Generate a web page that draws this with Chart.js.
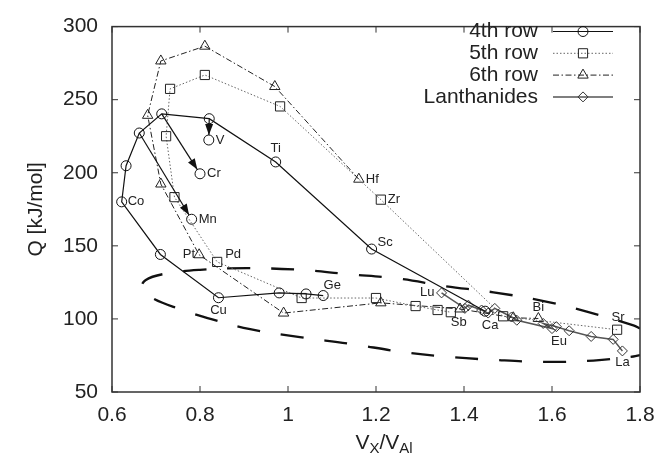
<!DOCTYPE html>
<html>
<head>
<meta charset="utf-8">
<script src="https://cdn.jsdelivr.net/npm/chart.js@4.4.1/dist/chart.umd.min.js"></script>
<style>
  html, body { margin: 0; padding: 0; background: #fff; }
  #wrap { width: 669px; height: 460px; }
</style>
</head>
<body>
<div id="wrap"><canvas id="chart"></canvas></div>
<script>
// 4th row, non-magnetic values (Ca ... Ge)
const row4Names = ['Ca', 'Sc', 'Ti', 'V', 'Cr', 'Mn', 'Fe', 'Co', 'Ni', 'Cu', 'Zn', 'Ga', 'Ge'];
const row4X = [1.448, 1.190, 0.972, 0.821, 0.713, 0.662, 0.632, 0.622, 0.710, 0.842, 0.980, 1.041, 1.080];
const row4Y = [105.3, 147.8, 207.4, 237.0, 240.3, 227.2, 204.8, 180.1, 144.1, 114.5, 117.8, 117.1, 116.0];

// magnetic values, the arrows point to these
const magNames = ['V', 'Cr', 'Mn'];
const magX = [0.820, 0.800, 0.781];
const magY = [222.4, 199.3, 168.2];

// 5th row
const row5Names = ['Sr', 'Y', 'Zr', 'Nb', 'Mo', 'Tc', 'Ru', 'Rh', 'Pd', 'Ag', 'Cd', 'In', 'Sn', 'Sb'];
const row5X = [1.748, 1.489, 1.211, 0.982, 0.811, 0.732, 0.723, 0.742, 0.839, 1.031, 1.200, 1.290, 1.340, 1.370];
const row5Y = [92.6, 101.8, 181.6, 245.4, 266.9, 257.4, 225.0, 183.3, 139.0, 114.3, 114.3, 108.8, 106.1, 104.6];

// 6th row
const row6Names = ['Hf', 'Ta', 'W', 'Re', 'Os', 'Ir', 'Pt', 'Au', 'Hg', 'Tl', 'Pb', 'Bi'];
const row6X = [1.161, 0.970, 0.811, 0.711, 0.681, 0.711, 0.798, 0.990, 1.211, 1.391, 1.512, 1.569];
const row6Y = [195.6, 259.0, 286.6, 276.5, 239.3, 192.3, 143.9, 104.0, 111.0, 106.8, 100.8, 100.3];

// lanthanides
const lanNames = ['La', 'Ce', 'Pr', 'Nd', 'Pm', 'Sm', 'Eu', 'Gd', 'Tb', 'Dy', 'Ho', 'Er', 'Tm', 'Yb', 'Lu'];
const lanX = [1.760, 1.739, 1.689, 1.639, 1.610, 1.580, 1.600, 1.520, 1.508, 1.470, 1.455, 1.440, 1.410, 1.402, 1.349];
const lanY = [78.1, 86.0, 88.0, 91.9, 94.7, 96.9, 93.4, 99.1, 101.3, 107.2, 104.0, 106.1, 109.4, 107.2, 117.8];

// dashed envelope, traced round from the upper right
const envX = [1.80, 1.785, 1.679, 1.573, 1.467, 1.353, 1.255, 1.133, 1.027, 0.906, 0.800, 0.717, 0.676, 0.668,
              0.690, 0.755, 0.830, 0.914, 1.027, 1.141, 1.255, 1.353, 1.467, 1.580, 1.694, 1.785, 1.80];
const envY = [93.5, 95.6, 105.0, 112.7, 118.2, 122.6, 127.4, 130.7, 133.6, 134.7, 133.6, 130.7, 126.5, 121.0,
              114.5, 106.6, 99.5, 93.0, 87.5, 83.0, 77.6, 74.3, 72.0, 70.6, 71.5, 74.3, 75.2];

const seriesLabels = ['4th row', '5th row', '6th row', 'Lanthanides'];

// which element names get a text label, and where it sits next to the mark
const tagList = [
  ['row4', 'Co', 6, 0, 'left'], ['mag', 'V', 7, 0, 'left'], ['mag', 'Cr', 7, 0, 'left'],
  ['mag', 'Mn', 7, 0, 'left'], ['row4', 'Ti', 0, -14, 'center'], ['row4', 'Sc', 6, -7, 'left'],
  ['row6', 'Hf', 7, 0, 'left'], ['row5', 'Zr', 7, 0, 'left'], ['row6', 'Pt', -4, 0, 'right'],
  ['row5', 'Pd', 8, -7, 'left'], ['row4', 'Cu', 0, 13, 'center'], ['row4', 'Ge', 9, -10, 'center'],
  ['lan', 'Lu', -7, 0, 'right'], ['row5', 'Sb', 8, 10, 'center'], ['row4', 'Ca', 5, 14, 'center'],
  ['row6', 'Bi', 0, -11, 'center'], ['lan', 'Eu', 7, 13, 'center'], ['row5', 'Sr', 1, -12, 'center'],
  ['lan', 'La', 0, 11, 'center']
];

const FONT = "'Liberation Sans', Arial, sans-serif";

function pts(xs, ys) {
  return xs.map((x, i) => ({ x: x, y: ys[i] }));
}

const series = {
  row4: { names: row4Names, x: row4X, y: row4Y },
  mag: { names: magNames, x: magX, y: magY },
  row5: { names: row5Names, x: row5X, y: row5Y },
  row6: { names: row6Names, x: row6X, y: row6Y },
  lan: { names: lanNames, x: lanX, y: lanY }
};

function drawMarker(ctx, style, r, cx, cy) {
  ctx.beginPath();
  if (style === 'circle') {
    ctx.arc(cx, cy, r, 0, Math.PI * 2);
  } else if (style === 'rect') {
    const s = r * Math.SQRT1_2;
    ctx.rect(cx - s, cy - s, 2 * s, 2 * s);
  } else if (style === 'triangle') {
    ctx.moveTo(cx, cy - r);
    ctx.lineTo(cx + r * 0.866, cy + r * 0.5);
    ctx.lineTo(cx - r * 0.866, cy + r * 0.5);
    ctx.closePath();
  } else {
    ctx.moveTo(cx, cy - r);
    ctx.lineTo(cx + r, cy);
    ctx.lineTo(cx, cy + r);
    ctx.lineTo(cx - r, cy);
    ctx.closePath();
  }
  ctx.stroke();
}

const decor = {
  id: 'decor',
  afterDatasetsDraw(chart) {
    const ctx = chart.ctx;
    const a = chart.chartArea;
    const xs = chart.scales.x, ys = chart.scales.y;
    ctx.save();

    // frame with inward ticks on all four sides
    ctx.strokeStyle = '#333';
    ctx.lineWidth = 1.5;
    ctx.strokeRect(a.left, a.top, a.right - a.left, a.bottom - a.top);
    ctx.lineWidth = 1;
    ctx.beginPath();
    xs.ticks.forEach(t => {
      const p = xs.getPixelForValue(t.value);
      ctx.moveTo(p, a.bottom); ctx.lineTo(p, a.bottom - 6);
      ctx.moveTo(p, a.top); ctx.lineTo(p, a.top + 6);
    });
    ys.ticks.forEach(t => {
      const p = ys.getPixelForValue(t.value);
      ctx.moveTo(a.left, p); ctx.lineTo(a.left + 6, p);
      ctx.moveTo(a.right, p); ctx.lineTo(a.right - 6, p);
    });
    ctx.stroke();

    // arrows: non-magnetic -> magnetic
    ctx.strokeStyle = '#111';
    ctx.fillStyle = '#111';
    ctx.lineWidth = 1.2;
    magNames.forEach((name, i) => {
      const k = row4Names.indexOf(name);
      const x0 = xs.getPixelForValue(row4X[k]), y0 = ys.getPixelForValue(row4Y[k]);
      const x1 = xs.getPixelForValue(magX[i]), y1 = ys.getPixelForValue(magY[i]);
      const ang = Math.atan2(y1 - y0, x1 - x0);
      const tx = x1 - Math.cos(ang) * 5, ty = y1 - Math.sin(ang) * 5;
      ctx.beginPath();
      ctx.moveTo(x0, y0);
      ctx.lineTo(tx, ty);
      ctx.stroke();
      const hl = 11, hw = 4;
      const bx = tx - Math.cos(ang) * hl, by = ty - Math.sin(ang) * hl;
      ctx.beginPath();
      ctx.moveTo(tx, ty);
      ctx.lineTo(bx - Math.sin(ang) * hw, by + Math.cos(ang) * hw);
      ctx.lineTo(bx + Math.sin(ang) * hw, by - Math.cos(ang) * hw);
      ctx.closePath();
      ctx.fill();
    });

    // element labels
    ctx.font = '13px ' + FONT;
    ctx.fillStyle = '#222';
    ctx.textBaseline = 'middle';
    tagList.forEach(([key, name, dx, dy, align]) => {
      const s = series[key];
      const i = s.names.indexOf(name);
      ctx.textAlign = align;
      ctx.fillText(name, xs.getPixelForValue(s.x[i]) + dx, ys.getPixelForValue(s.y[i]) + dy);
    });

    // legend
    ctx.font = '21px ' + FONT;
    seriesLabels.forEach((lab, i) => {
      const ds = chart.data.datasets[i];
      const ly = 31.5 + i * 21.8;
      ctx.fillStyle = '#222';
      ctx.textAlign = 'right';
      ctx.fillText(lab, 538, ly);
      ctx.strokeStyle = ds.borderColor;
      ctx.lineWidth = ds.borderWidth;
      ctx.setLineDash(ds.borderDash || []);
      ctx.beginPath();
      ctx.moveTo(553, ly); ctx.lineTo(613, ly);
      ctx.stroke();
      ctx.setLineDash([]);
      ctx.strokeStyle = ds.pointBorderColor;
      ctx.lineWidth = 1;
      drawMarker(ctx, ds.pointStyle, ds.pointRadius, 583, ly);
    });

    // axis titles
    ctx.fillStyle = '#222';
    ctx.font = '21px ' + FONT;
    ctx.textAlign = 'center';
    ctx.save();
    ctx.translate(36, (a.top + a.bottom) / 2);
    ctx.rotate(-Math.PI / 2);
    ctx.fillText('Q [kJ/mol]', 0, 0);
    ctx.restore();

    const parts = [['V', 21, 0], ['X', 15, 6], ['/V', 21, 0], ['Al', 15, 6]];
    let w = 0;
    parts.forEach(p => { ctx.font = p[1] + 'px ' + FONT; w += ctx.measureText(p[0]).width; });
    let cx = (a.left + a.right) / 2 + 8 - w / 2;
    ctx.textAlign = 'left';
    parts.forEach(p => {
      ctx.font = p[1] + 'px ' + FONT;
      ctx.fillText(p[0], cx, 443 + p[2]);
      cx += ctx.measureText(p[0]).width;
    });

    ctx.restore();
  }
};

new Chart(document.getElementById('chart'), {
  type: 'scatter',
  data: {
    datasets: [
      {
        label: seriesLabels[0], data: pts(row4X, row4Y), showLine: true,
        borderColor: '#111', borderWidth: 1.2, pointStyle: 'circle', pointRadius: 5,
        pointBorderColor: '#111', pointBackgroundColor: 'rgba(0,0,0,0)', pointBorderWidth: 1
      },
      {
        label: seriesLabels[1], data: pts(row5X, row5Y), showLine: true,
        borderColor: '#666', borderWidth: 1, borderDash: [1.5, 2], pointStyle: 'rect', pointRadius: 6.5,
        pointBorderColor: '#222', pointBackgroundColor: 'rgba(0,0,0,0)', pointBorderWidth: 1
      },
      {
        label: seriesLabels[2], data: pts(row6X, row6Y), showLine: true,
        borderColor: '#222', borderWidth: 1, borderDash: [6, 2.5, 1.5, 2.5], pointStyle: 'triangle', pointRadius: 6,
        pointBorderColor: '#222', pointBackgroundColor: 'rgba(0,0,0,0)', pointBorderWidth: 1
      },
      {
        label: seriesLabels[3], data: pts(lanX, lanY), showLine: true,
        borderColor: '#555', borderWidth: 1.5, pointStyle: 'rectRot', pointRadius: 5,
        pointBorderColor: '#333', pointBackgroundColor: 'rgba(0,0,0,0)', pointBorderWidth: 1
      },
      {
        label: 'magnetic', data: pts(magX, magY), showLine: false,
        pointStyle: 'circle', pointRadius: 5,
        pointBorderColor: '#111', pointBackgroundColor: 'rgba(0,0,0,0)', pointBorderWidth: 1
      },
      {
        label: 'envelope', data: pts(envX, envY), showLine: true, tension: 0.4,
        borderColor: '#111', borderWidth: 2.3, borderDash: [23, 21], pointRadius: 0
      }
    ]
  },
  options: {
    responsive: true,
    maintainAspectRatio: false,
    animation: false,
    events: [],
    layout: { padding: { top: 13, right: 29, left: 0, bottom: 0 } },
    plugins: { legend: { display: false }, tooltip: { enabled: false } },
    scales: {
      x: {
        type: 'linear', min: 0.6, max: 1.8,
        grid: { display: false, drawTicks: false },
        border: { display: false },
        ticks: {
          stepSize: 0.2, padding: 11, color: '#222', font: { family: FONT, size: 21 },
          callback: v => String(Math.round(v * 10) / 10)
        },
        afterFit(scale) { scale.height = 68; }
      },
      y: {
        type: 'linear', min: 50, max: 300,
        grid: { display: false, drawTicks: false },
        border: { display: false },
        ticks: { stepSize: 50, padding: 14, color: '#222', font: { family: FONT, size: 21 } },
        afterFit(scale) { scale.width = 112; }
      }
    }
  },
  plugins: [decor]
});
</script>
</body>
</html>
